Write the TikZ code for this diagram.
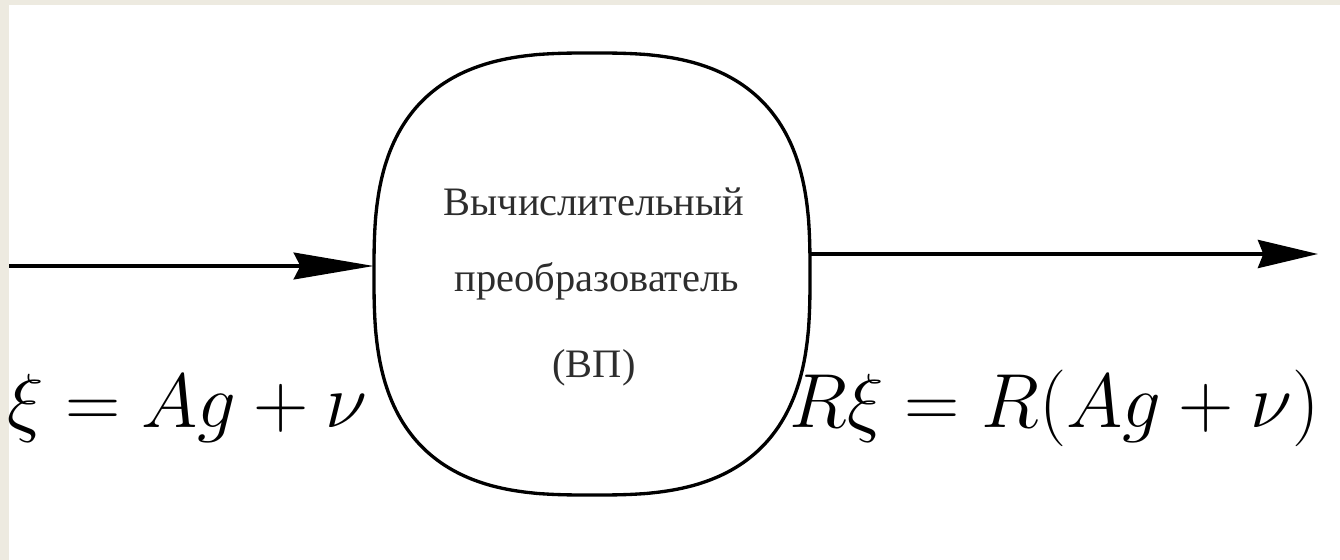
\RequirePackage{fix-cm}
\documentclass[tikz,border=0pt]{standalone}
\usepackage{fontspec}
\newfontfamily\cyrserif{Liberation Serif}
\usetikzlibrary{arrows.meta}
\definecolor{framebg}{RGB}{237,234,224}
\definecolor{txtgray}{RGB}{45,45,45}
\tikzset{
  conn/.style={line width=3pt, black},
  inarrow/.style={-{Stealth[length=60pt,width=20pt,inset=5pt]}},
  outarrow/.style={-{Stealth[length=45pt,width=21pt,inset=4pt]}},
  boxline/.style={line width=2.5pt, black, line join=round},
  boxtext/.style={font=\cyrserif\fontsize{30.3}{36}\selectfont, text=txtgray, inner sep=0pt},
  mathlbl/.style={font=\fontsize{57.5}{68}\selectfont, inner sep=0pt},
}
\begin{document}
\begin{tikzpicture}[x=0.75pt,y=-0.75pt]
\useasboundingbox (0,0) rectangle (1340,560);
\fill[framebg] (0,0) rectangle (1340,560);
\fill[white] (9,5) rectangle (1340,560);
% box
\node[minimum width=327pt, minimum height=331.5pt, inner sep=0pt] (vp) at (592,274) {};
\draw[boxline]
  plot[domain=0.5:89.5,samples=60,smooth] ({592+218*pow(cos(\x),0.714)},{274-221*pow(sin(\x),0.714)})
  -- plot[domain=0.5:89.5,samples=60,smooth] ({592-218*pow(sin(\x),0.714)},{274-221*pow(cos(\x),0.714)})
  -- plot[domain=0.5:89.5,samples=60,smooth] ({592-218*pow(cos(\x),0.714)},{274+221*pow(sin(\x),0.714)})
  -- plot[domain=0.5:89.5,samples=60,smooth] ({592+218*pow(sin(\x),0.714)},{274+221*pow(cos(\x),0.714)})
  -- cycle;
\node[boxtext, anchor=base] (l1) at (594,215) {Вычислительный};
\node[boxtext, anchor=base] (l2) at (597,291) {преобразователь};
\node[boxtext, anchor=base] (l3) at (594,377) {(ВП)};
% connectors
\coordinate (in) at (9,266);
\coordinate (out) at (1318,254);
\draw[conn, inarrow] (in) -- (in -| vp.west);
\draw[conn, outarrow] (vp.east |- out) -- (out);
% labels
\node[mathlbl, anchor=base west] (xi) at (7,427) {$\xi = Ag + \nu$};
\node[mathlbl, anchor=base west] (rxi) at (789,427) {$R\xi = R(Ag + \nu)$};
\end{tikzpicture}
\end{document}
